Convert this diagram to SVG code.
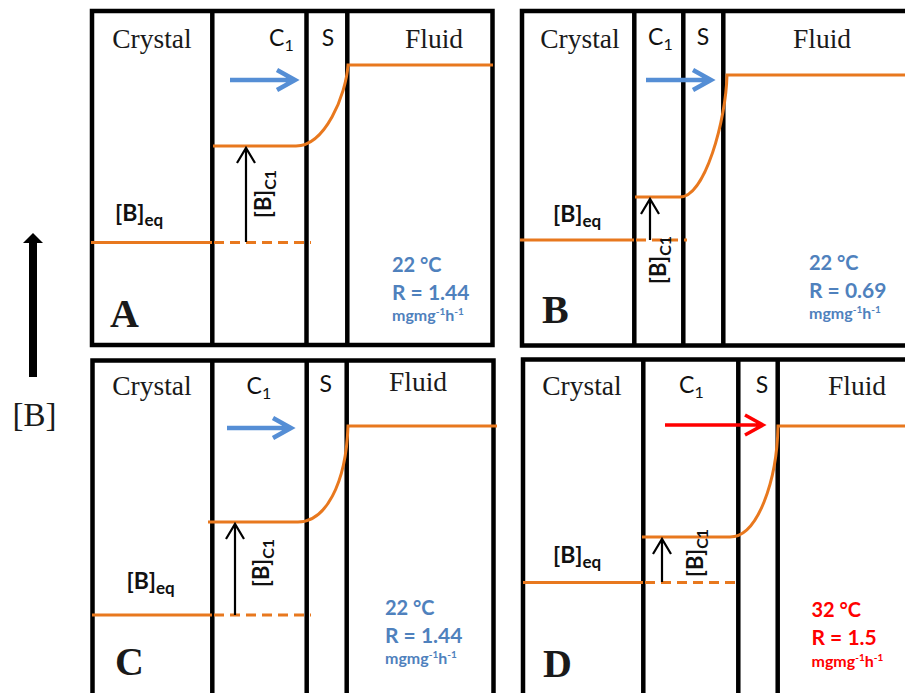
<svg xmlns="http://www.w3.org/2000/svg" width="905" height="693" viewBox="0 0 905 693">
<style>
.frame{fill:none;stroke:#000;stroke-width:4.5}
.wall{stroke:#000;stroke-width:4.5}
.conc{fill:none;stroke:#E8781E;stroke-width:3}
.dash{fill:none;stroke:#E8781E;stroke-width:3;stroke-dasharray:10 6}
.flow{fill:none;stroke:#558ED5;stroke-width:4.5;stroke-linejoin:miter}
.flowr{fill:none;stroke:#FF0000;stroke-width:3.5}
.up{fill:none;stroke:#000;stroke-width:2.2}
.serif{font-family:"Liberation Serif","Times New Roman",serif;fill:#1a1a1a}
.lab{font-family:"Lato","Liberation Sans",sans-serif;fill:#111}
.big{font-size:27.5px}
.let{font-size:40px;font-weight:bold}
.sm{font-size:23px}
.bl{font-family:"Lato","Liberation Sans",sans-serif;font-weight:bold;fill:#4F81BD}
.rd{font-family:"Lato","Liberation Sans",sans-serif;font-weight:bold;fill:#FF0000}
.b{font-weight:bold}
</style>
<rect width="905" height="693" fill="#fff"/>

<g id="axis">
<rect x="29" y="242" width="8" height="135" fill="#000"/>
<polygon points="23,243 43,243 33,233" fill="#000"/>
<text class="serif" x="34.5" y="426" font-size="33" text-anchor="middle">[B]</text>
</g>

<g id="panelA">
<rect class="frame" x="92" y="11" width="400.5" height="334"/>
<line class="wall" x1="212.3" y1="11" x2="212.3" y2="345"/>
<line class="wall" x1="306.5" y1="11" x2="306.5" y2="345"/>
<line class="wall" x1="347.3" y1="11" x2="347.3" y2="345"/>
<line class="conc" x1="91" y1="242.5" x2="212" y2="242.5"/>
<line class="dash" x1="214" y1="242.5" x2="311" y2="242.5"/>
<path class="conc" d="M213,146 L296,146 C325,146 346,95 348,65 L493,65"/>
<text class="serif big" x="152" y="48" text-anchor="middle">Crystal</text>
<text class="lab sm" x="269" y="45.5">C<tspan font-size="16" dy="5">1</tspan></text>
<text class="lab sm" x="328" y="46" text-anchor="middle">S</text>
<text class="serif big" x="434" y="48" text-anchor="middle">Fluid</text>
<text class="lab b" x="115" y="221" font-size="23">[B]<tspan font-size="17" dy="5">eq</tspan></text>
<text class="lab b" transform="translate(271,194) rotate(-90)" font-size="22" text-anchor="middle">[B]<tspan font-size="16" dy="5">C1</tspan></text>
<text class="serif let" x="110" y="327">A</text>
<text class="bl" x="392" y="272" font-size="20">22 °C</text>
<text class="bl" x="392" y="300" font-size="21">R = 1.44</text>
<text class="bl" x="392" y="321" font-size="16">mgmg<tspan font-size="10" dy="-6">-1</tspan><tspan dy="6">h</tspan><tspan font-size="10" dy="-6">-1</tspan></text>
</g>

<g id="panelB">
<rect class="frame" x="522" y="11" width="400" height="334.5"/>
<line class="wall" x1="634.3" y1="11" x2="634.3" y2="345.5"/>
<line class="wall" x1="683.3" y1="11" x2="683.3" y2="345.5"/>
<line class="wall" x1="723.3" y1="11" x2="723.3" y2="345.5"/>
<line class="conc" x1="520" y1="240" x2="634" y2="240"/>
<line class="dash" x1="636" y1="240" x2="687" y2="240"/>
<path class="conc" d="M635,197 L680,197 C705,197 726,120 727,75 L905,75"/>
<text class="serif big" x="580" y="48" text-anchor="middle">Crystal</text>
<text class="lab sm" x="648" y="45">C<tspan font-size="16" dy="5">1</tspan></text>
<text class="lab sm" x="703" y="45" text-anchor="middle">S</text>
<text class="serif big" x="822" y="48" text-anchor="middle">Fluid</text>
<text class="lab b" x="553" y="222" font-size="23">[B]<tspan font-size="17" dy="5">eq</tspan></text>
<text class="lab b" transform="translate(666,260) rotate(-90)" font-size="22" text-anchor="middle">[B]<tspan font-size="16" dy="5">C1</tspan></text>
<text class="serif let" x="542" y="323">B</text>
<text class="bl" x="809" y="269.5" font-size="20">22 °C</text>
<text class="bl" x="809" y="297.5" font-size="21">R = 0.69</text>
<text class="bl" x="809" y="318.5" font-size="16">mgmg<tspan font-size="10" dy="-6">-1</tspan><tspan dy="6">h</tspan><tspan font-size="10" dy="-6">-1</tspan></text>
</g>

<g id="panelC">
<rect class="frame" x="92.5" y="360.5" width="401" height="340"/>
<line class="wall" x1="212.3" y1="360.5" x2="212.3" y2="700"/>
<line class="wall" x1="306.7" y1="360.5" x2="306.7" y2="700"/>
<line class="wall" x1="346.7" y1="360.5" x2="346.7" y2="700"/>
<line class="conc" x1="92" y1="615" x2="212" y2="615"/>
<line class="dash" x1="214" y1="615" x2="311" y2="615"/>
<path class="conc" d="M208,522 L298,522 C325,522 346,485 348,426 L497,426"/>
<text class="serif big" x="152" y="395" text-anchor="middle">Crystal</text>
<text class="lab sm" x="246.5" y="394">C<tspan font-size="16" dy="5">1</tspan></text>
<text class="lab sm" x="325.7" y="392" text-anchor="middle">S</text>
<text class="serif big" x="418" y="391" text-anchor="middle">Fluid</text>
<text class="lab b" x="126.5" y="589" font-size="23">[B]<tspan font-size="17" dy="5">eq</tspan></text>
<text class="lab b" transform="translate(269,563) rotate(-90)" font-size="22" text-anchor="middle">[B]<tspan font-size="16" dy="5">C1</tspan></text>
<text class="serif let" x="115" y="675">C</text>
<text class="bl" x="385" y="615" font-size="20">22 °C</text>
<text class="bl" x="385" y="643" font-size="21">R = 1.44</text>
<text class="bl" x="385" y="664" font-size="16">mgmg<tspan font-size="10" dy="-6">-1</tspan><tspan dy="6">h</tspan><tspan font-size="10" dy="-6">-1</tspan></text>
</g>

<g id="panelD">
<rect class="frame" x="523" y="359.5" width="400" height="340"/>
<line class="wall" x1="643.3" y1="359.5" x2="643.3" y2="700"/>
<line class="wall" x1="738.3" y1="359.5" x2="738.3" y2="700"/>
<line class="wall" x1="777.7" y1="359.5" x2="777.7" y2="700"/>
<line class="conc" x1="523" y1="582.5" x2="643" y2="582.5"/>
<line class="dash" x1="645" y1="582.5" x2="741" y2="582.5"/>
<path class="conc" d="M642,537 L730,537 C758,537 777,480 778,426 L905,426"/>
<text class="serif big" x="582" y="395" text-anchor="middle">Crystal</text>
<text class="lab sm" x="679" y="393">C<tspan font-size="16" dy="5">1</tspan></text>
<text class="lab sm" x="762" y="393" text-anchor="middle">S</text>
<text class="serif big" x="857" y="395" text-anchor="middle">Fluid</text>
<text class="lab b" x="553" y="563" font-size="23">[B]<tspan font-size="17" dy="5">eq</tspan></text>
<text class="lab b" transform="translate(703,553) rotate(-90)" font-size="22" text-anchor="middle">[B]<tspan font-size="16" dy="5">C1</tspan></text>
<text class="serif let" x="543" y="677">D</text>
<text class="rd" x="811.5" y="617" font-size="20">32 °C</text>
<text class="rd" x="811.5" y="645" font-size="21">R = 1.5</text>
<text class="rd" x="811.5" y="666.5" font-size="16">mgmg<tspan font-size="10" dy="-6">-1</tspan><tspan dy="6">h</tspan><tspan font-size="10" dy="-6">-1</tspan></text>
</g>

<g id="connectors">
<path class="flow" d="M230,80 H294 M277,70 L295,80 L277,90"/>
<path class="flow" d="M646,80 H710 M693,70 L711,80 L693,90"/>
<path class="flow" d="M227,428 H290 M273,418 L291,428 L273,438"/>
<path class="flowr" d="M665,425 H761 M745,415 L763,425 L745,435"/>
<path class="up" d="M246,242 V148 M237,163 L246,148 L255,163"/>
<path class="up" d="M650,240 V199 M641,214 L650,199 L659,214"/>
<path class="up" d="M235,615 V524 M226,539 L235,524 L244,539"/>
<path class="up" d="M662,582 V539 M653,554 L662,539 L671,554"/>
</g>
</svg>
